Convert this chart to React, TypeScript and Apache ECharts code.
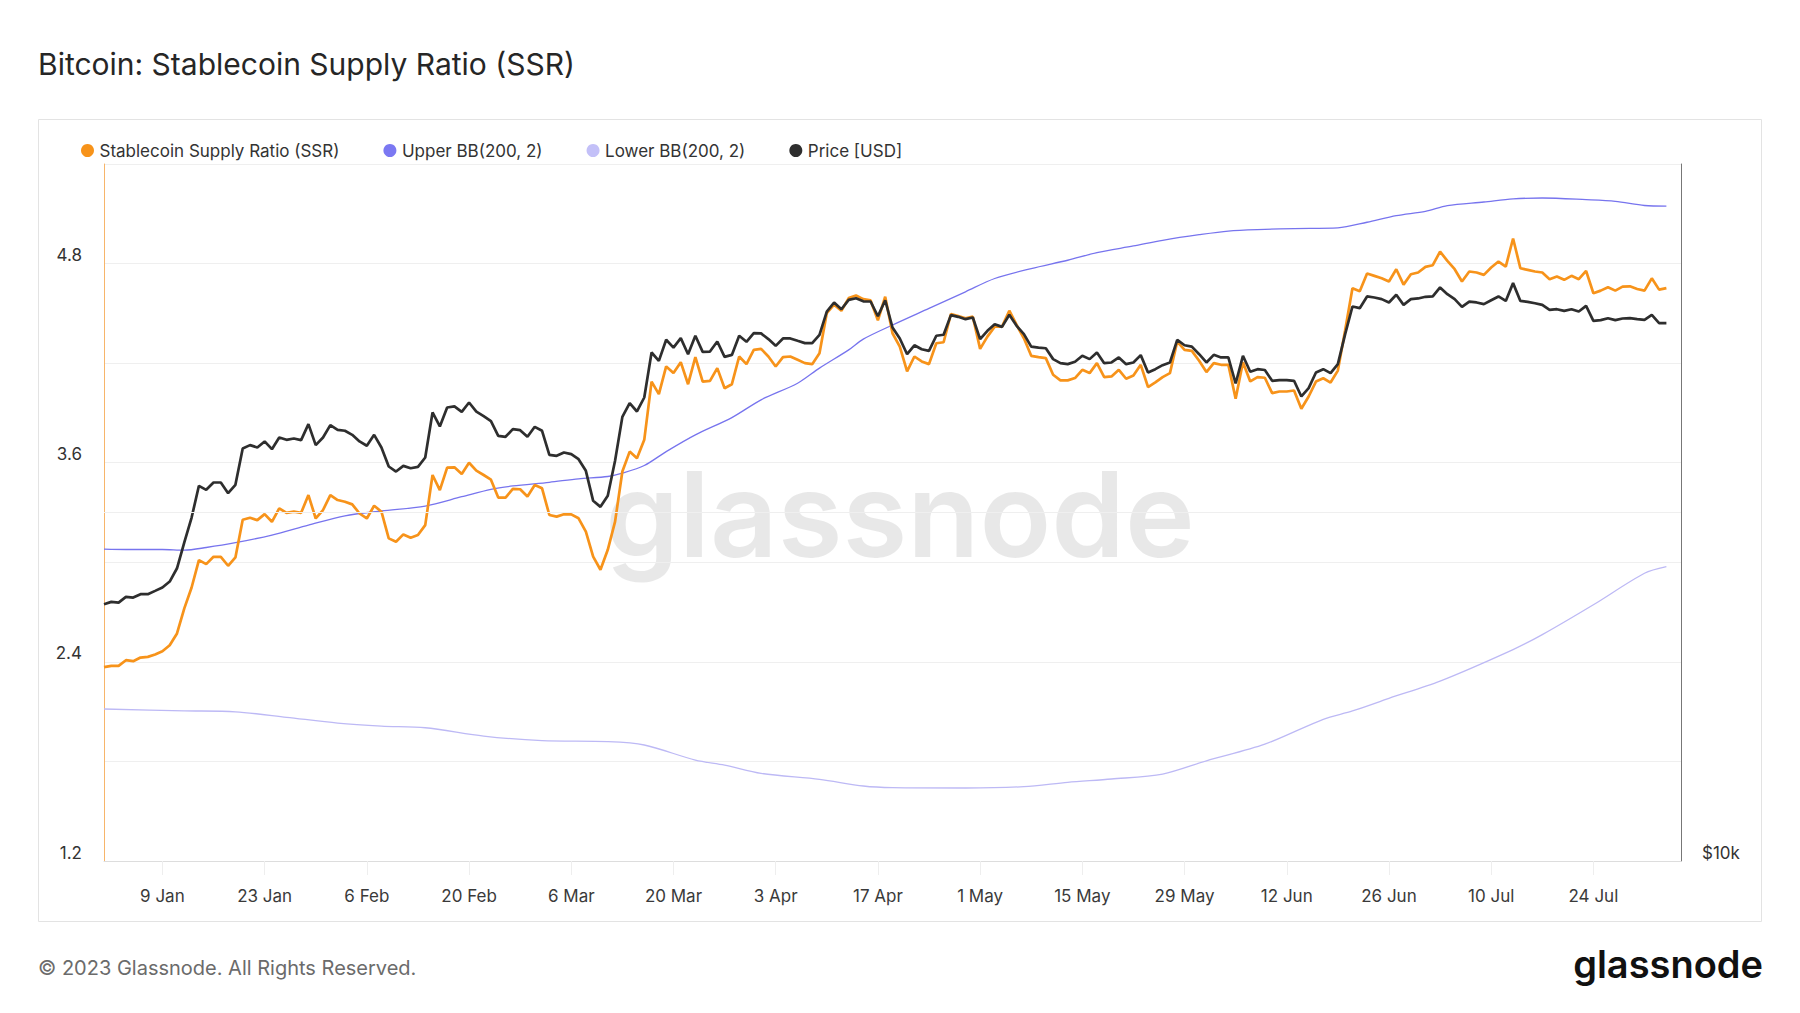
import React, { useEffect, useRef } from "react";
import * as echarts from "echarts";

// ---------- data ----------
const START_DATE = Date.UTC(2023, 0, 1);
const NUM_DAYS = 217; // 1 Jan .. 5 Aug 2023
const MONTHS = ["Jan", "Feb", "Mar", "Apr", "May", "Jun", "Jul", "Aug", "Sep", "Oct", "Nov", "Dec"];
const TICK_FIRST = 8; // 9 Jan
const TICK_STEP = 14;

// Stablecoin Supply Ratio, daily from 1 Jan 2023
const SSR = [
  2.368, 2.376, 2.376, 2.41, 2.404, 2.426, 2.43, 2.444, 2.464, 2.5,
  2.571, 2.722, 2.848, 3.013, 2.989, 3.033, 3.033, 2.979, 3.029, 3.256,
  3.268, 3.254, 3.29, 3.244, 3.325, 3.298, 3.305, 3.298, 3.405, 3.264,
  3.315, 3.405, 3.375, 3.365, 3.349, 3.294, 3.264, 3.341, 3.305, 3.144,
  3.124, 3.168, 3.148, 3.164, 3.224, 3.526, 3.435, 3.57, 3.572, 3.532,
  3.6, 3.552, 3.526, 3.498, 3.39, 3.39, 3.442, 3.44, 3.396, 3.466,
  3.446, 3.285, 3.275, 3.289, 3.289, 3.265, 3.185, 3.034, 2.955, 3.075,
  3.245, 3.547, 3.667, 3.627, 3.738, 4.089, 4.013, 4.18, 4.14, 4.206,
  4.073, 4.236, 4.089, 4.093, 4.17, 4.049, 4.073, 4.24, 4.194, 4.28,
  4.286, 4.24, 4.18, 4.236, 4.24, 4.22, 4.2, 4.194, 4.26, 4.502,
  4.552, 4.516, 4.592, 4.608, 4.586, 4.578, 4.458, 4.6, 4.38, 4.3,
  4.15, 4.24, 4.21, 4.194, 4.32, 4.326, 4.496, 4.484, 4.47, 4.48,
  4.286, 4.36, 4.42, 4.42, 4.516, 4.43, 4.35, 4.244, 4.236, 4.23,
  4.13, 4.096, 4.096, 4.11, 4.16, 4.14, 4.2, 4.116, 4.12, 4.16,
  4.106, 4.126, 4.19, 4.056, 4.084, 4.116, 4.14, 4.33, 4.28, 4.274,
  4.214, 4.146, 4.2, 4.19, 4.19, 3.986, 4.206, 4.09, 4.116, 4.112,
  4.019, 4.029, 4.029, 4.035, 3.925, 3.999, 4.089, 4.109, 4.083, 4.155,
  4.398, 4.651, 4.633, 4.74, 4.726, 4.712, 4.692, 4.766, 4.673, 4.736,
  4.746, 4.78, 4.79, 4.872, 4.816, 4.766, 4.692, 4.752, 4.746, 4.732,
  4.776, 4.812, 4.782, 4.951, 4.772, 4.762, 4.752, 4.746, 4.706, 4.722,
  4.702, 4.726, 4.706, 4.756, 4.621, 4.637, 4.657, 4.637, 4.661, 4.663,
  4.647, 4.637, 4.711, 4.643, 4.652,
];

// BTC price in USD, daily from 1 Jan 2023
const PRICE = [
  16666, 16742, 16719, 16910, 16886, 17000, 17000, 17113, 17228, 17434,
  17900, 18842, 19801, 21090, 20923, 21230, 21230, 20784, 21132, 22716,
  22868, 22762, 23036, 22684, 23218, 23110, 23172, 23094, 23844, 22868,
  23218, 23796, 23576, 23530, 23342, 23036, 22840, 23342, 22762, 21916,
  21698, 21944, 21842, 21900, 22312, 24402, 23734, 24646, 24696, 24434,
  24892, 24442, 24224, 23985, 23296, 23250, 23606, 23560, 23250, 23716,
  23530, 22430, 22386, 22536, 22460, 22236, 21728, 20470, 20226, 20674,
  22164, 24190, 24858, 24450, 25140, 27494, 27042, 28200, 27764, 28292,
  27400, 28424, 27526, 27545, 28104, 27254, 27362, 28424, 28086, 28576,
  28560, 28236, 27860, 28274, 28274, 28142, 28012, 28012, 28478, 29828,
  30368, 29966, 30530, 30628, 30440, 30430, 29550, 30506, 28896, 28270,
  27400, 27892, 27672, 27580, 28424, 28482, 29614, 29516, 29378, 29476,
  28232, 28704, 29086, 28932, 29634, 28990, 28520, 27818, 27764, 27726,
  27134, 26918, 26864, 26990, 27314, 27134, 27496, 26918, 26954, 27224,
  26864, 26954, 27350, 26422, 26598, 26810, 26954, 28194, 27892, 27818,
  27400, 26954, 27368, 27224, 27224, 25850, 27314, 26458, 26598, 26555,
  25990, 26024, 26024, 25990, 25192, 25612, 26422, 26598, 26388, 26864,
  28520, 30128, 30028, 30736, 30674, 30574, 30372, 30838, 30228, 30574,
  30614, 30716, 30736, 31292, 30878, 30574, 30108, 30424, 30372, 30268,
  30506, 30736, 30464, 31562, 30464, 30404, 30324, 30228, 29926, 29966,
  29868, 29966, 29828, 30168, 29280, 29320, 29436, 29320, 29416, 29436,
  29378, 29340, 29630, 29150, 29150,
];

// Bollinger bands (day offset from 1 Jan 2023, value)
const UPPER_BB_DAYS = [
  0, 3, 8, 11, 14, 18, 23, 28, 33, 38, 44, 49, 53, 56, 61, 65, 69, 71, 74, 77,
  81, 86, 90, 95, 98, 102, 104, 108, 113, 118, 122, 127, 132, 136, 141, 145, 150, 154, 159, 163,
  169, 173, 177, 181, 184, 189, 193, 197, 203, 207, 211, 214,
];
const UPPER_BB = [
  3.079, 3.077, 3.077, 3.073, 3.089, 3.118, 3.164, 3.224, 3.28, 3.309, 3.339, 3.395, 3.44, 3.46, 3.482, 3.503, 3.517, 3.537, 3.583, 3.667,
  3.768, 3.872, 3.979, 4.079, 4.17, 4.28, 4.345, 4.43, 4.53, 4.63, 4.71, 4.77, 4.82, 4.866, 4.906, 4.94, 4.974, 4.996, 5.006, 5.011,
  5.015, 5.049, 5.089, 5.115, 5.149, 5.171, 5.19, 5.195, 5.185, 5.175, 5.15, 5.146,
];
const LOWER_BB_DAYS = [
  0, 11, 18, 25, 32, 38, 44, 52, 60, 69, 74, 81, 85, 90, 98, 104, 108, 118, 126, 132,
  138, 145, 151, 159, 167, 171, 176, 183, 193, 197, 204, 211, 214,
];
const LOWER_BB = [
  2.116, 2.105, 2.099, 2.066, 2.031, 2.013, 2.003, 1.953, 1.925, 1.919, 1.899, 1.808, 1.778, 1.728, 1.692, 1.652, 1.642, 1.64, 1.648, 1.674,
  1.694, 1.724, 1.804, 1.904, 2.054, 2.104, 2.18, 2.284, 2.474, 2.564, 2.744, 2.934, 2.974,
];

const SSR_LABELS = [1.2, 2.4, 3.6, 4.8];
const PRICE_LABEL_VALUE = 10000;
const PRICE_GRID_VALUE = 20000;

const FONT = "Inter, 'Noto Sans', sans-serif";

function buildDates(): string[] {
  const out: string[] = [];
  for (let i = 0; i < NUM_DAYS; i++) {
    const d = new Date(START_DATE + i * 86400000);
    out.push(d.getUTCDate() + " " + MONTHS[d.getUTCMonth()]);
  }
  return out;
}

export default function App() {
  const ref = useRef<HTMLDivElement>(null);

  useEffect(() => {
    document.body.style.margin = "0";
    if (!ref.current) return;
    const chart = echarts.init(ref.current, undefined, { renderer: "svg" });
    const dates = buildDates();
    const isTick = (idx: number) => idx >= TICK_FIRST && (idx - TICK_FIRST) % TICK_STEP === 0;

    const option: any = {
      animation: false,
      backgroundColor: "#ffffff",
      textStyle: { fontFamily: FONT },
      graphic: [
        {
          type: "rect",
          z: -10,
          shape: { x: 38.5, y: 119.5, width: 1723, height: 802 },
          style: { fill: "none", stroke: "#e3e3e3", lineWidth: 1 },
        },
        {
          type: "text",
          x: 38,
          y: 64,
          style: {
            text: "Bitcoin: Stablecoin Supply Ratio (SSR)",
            fontSize: 30,
            fontFamily: FONT,
            fill: "#262626",
            verticalAlign: "middle",
          },
        },
        {
          type: "text",
          x: 900,
          y: 514,
          z: -5,
          style: {
            text: "glassnode",
            fontSize: 118,
            fontWeight: 600,
            fontFamily: FONT,
            fill: "rgba(0,0,0,0.09)",
            align: "center",
            verticalAlign: "middle",
          },
        },
        {
          type: "text",
          x: 38,
          y: 968,
          style: {
            text: "© 2023 Glassnode. All Rights Reserved.",
            fontSize: 20,
            fontFamily: FONT,
            fill: "#6b6b6b",
            verticalAlign: "middle",
          },
        },
        {
          type: "text",
          x: 1763,
          y: 964,
          style: {
            text: "glassnode",
            fontSize: 38,
            fontWeight: 600,
            fontFamily: FONT,
            fill: "#111111",
            align: "right",
            verticalAlign: "middle",
          },
        },
      ],
      legend: {
        top: 137,
        left: 76,
        icon: "circle",
        itemWidth: 14,
        itemHeight: 13,
        itemGap: 44,
        textStyle: { fontSize: 17, color: "#333333", fontFamily: FONT },
        data: ["Stablecoin Supply Ratio (SSR)", "Upper BB(200, 2)", "Lower BB(200, 2)", "Price [USD]"],
      },
      grid: { left: 104, right: 119, top: 164, bottom: 152, containLabel: false },
      xAxis: {
        type: "category",
        data: dates,
        boundaryGap: false,
        axisLine: { show: true, lineStyle: { color: "#dddddd", width: 1 } },
        axisTick: {
          show: true,
          interval: (idx: number) => isTick(idx),
          length: 14,
          lineStyle: { color: "#eeeeee", width: 1 },
        },
        axisLabel: {
          interval: (idx: number) => isTick(idx),
          fontSize: 17,
          color: "#3a3a3a",
          margin: 26,
          fontFamily: FONT,
        },
        splitLine: { show: false },
      },
      yAxis: [
        {
          type: "value",
          min: 1.2,
          max: 5.4,
          interval: 0.6,
          position: "left",
          axisLine: { show: true, lineStyle: { color: "#f7b56a", width: 1 } },
          axisTick: { show: false },
          axisLabel: {
            fontSize: 17,
            color: "#333333",
            margin: 22,
            verticalAlign: "bottom",
            fontFamily: FONT,
            formatter: (v: number) =>
              SSR_LABELS.some((l) => Math.abs(l - v) < 1e-6) ? v.toFixed(1) : "",
          },
          splitLine: { show: true, lineStyle: { color: "#efefef", width: 1 } },
        },
        {
          type: "log",
          logBase: 10,
          min: 10000,
          max: 40000,
          position: "right",
          axisLine: { show: true, lineStyle: { color: "#777777", width: 1 } },
          axisTick: { show: false },
          axisLabel: {
            fontSize: 17,
            color: "#333333",
            margin: 21,
            verticalAlign: "bottom",
            fontFamily: FONT,
            formatter: (v: number) =>
              Math.abs(v - PRICE_LABEL_VALUE) < 1 ? "$" + PRICE_LABEL_VALUE / 1000 + "k" : "",
          },
          splitLine: { show: false },
        },
      ],
      series: [
        {
          name: "Stablecoin Supply Ratio (SSR)",
          type: "line",
          yAxisIndex: 0,
          data: SSR,
          symbol: "none",
          showSymbol: false,
          z: 3,
          color: "#f7931a",
          lineStyle: { color: "#f7931a", width: 2.7 },
          emphasis: { disabled: true },
        },
        {
          name: "Upper BB(200, 2)",
          type: "line",
          yAxisIndex: 0,
          data: UPPER_BB_DAYS.map((d, i) => [d, UPPER_BB[i]]),
          symbol: "none",
          showSymbol: false,
          smooth: 0.3,
          z: 2,
          color: "#7b78f2",
          lineStyle: { color: "#7774ee", width: 1.3 },
          emphasis: { disabled: true },
        },
        {
          name: "Lower BB(200, 2)",
          type: "line",
          yAxisIndex: 0,
          data: LOWER_BB_DAYS.map((d, i) => [d, LOWER_BB[i]]),
          symbol: "none",
          showSymbol: false,
          smooth: 0.3,
          z: 2,
          color: "#c3c0f8",
          lineStyle: { color: "#bdb9f5", width: 1.3 },
          emphasis: { disabled: true },
        },
        {
          name: "Price [USD]",
          type: "line",
          yAxisIndex: 1,
          data: PRICE,
          symbol: "none",
          showSymbol: false,
          z: 4,
          color: "#2e2e2e",
          lineStyle: { color: "#2e2e2e", width: 2.7 },
          emphasis: { disabled: true },
          markLine: {
            silent: true,
            symbol: ["none", "none"],
            label: { show: false },
            lineStyle: { color: "#efefef", width: 1, type: "solid" },
            data: [{ yAxis: PRICE_GRID_VALUE }],
          },
        },
      ],
    };

    chart.setOption(option);
    return () => chart.dispose();
  }, []);

  return <div ref={ref} style={{ width: 1800, height: 1013 }} />;
}
